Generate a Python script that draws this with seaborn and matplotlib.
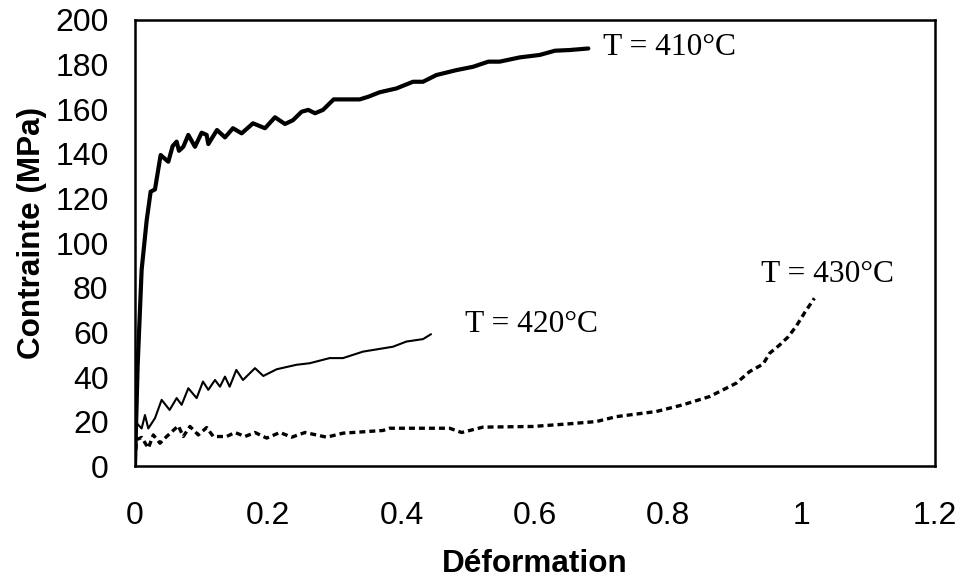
import numpy as np
import pandas as pd
import matplotlib
matplotlib.use("Agg")
import matplotlib.pyplot as plt
import seaborn as sns

# courbes contrainte-deformation
x_410 = [0, 0.004, 0.01, 0.0175, 0.0235, 0.03, 0.0385, 0.05, 0.0565, 0.0625, 0.066,
         0.0725, 0.08, 0.09, 0.1, 0.1075, 0.11, 0.123, 0.135, 0.147, 0.16, 0.177,
         0.195, 0.21, 0.225, 0.237, 0.25, 0.26, 0.27, 0.282, 0.298, 0.337, 0.35,
         0.367, 0.392, 0.417, 0.432, 0.452, 0.482, 0.507, 0.53, 0.547, 0.577,
         0.607, 0.63, 0.652, 0.68]
y_410 = [0, 45, 88, 110, 123, 124, 139.4, 136.4, 143.4, 145.4, 141.3,
         143.1, 148.4, 143.1, 149.4, 148.4, 144.3, 150.6, 147.3, 151.4, 149.1, 153.6,
         151.4, 156.3, 153.3, 155, 158.8, 159.6, 158.1, 159.6, 164.3, 164.3, 165.5,
         167.5, 169.2, 172.2, 172.2, 175.2, 177.4, 178.9, 181.2, 181.2, 183.1,
         184.2, 186.1, 186.4, 187.1]

x_420 = [0.0, 0.0025, 0.01, 0.015, 0.02, 0.03, 0.04, 0.052, 0.0625, 0.07, 0.08,
         0.0925, 0.102, 0.11, 0.12, 0.1275, 0.135, 0.142, 0.152, 0.162, 0.18,
         0.1925, 0.2125, 0.242, 0.262, 0.292, 0.312, 0.342, 0.387, 0.407, 0.432, 0.444]
y_420 = [10, 19.4, 17, 23, 17, 21.6, 29.8, 25.3, 30.6, 27.6, 35,
         30.6, 38, 34.3, 38.7, 35.7, 40.2, 35.7, 43.2, 38.7, 44,
         40.5, 43.5, 45.5, 46.2, 48.5, 48.5, 51.4, 53.6, 55.9, 57, 59.2]

x_430 = [0.0, 0.0025, 0.01, 0.02, 0.0275, 0.0375, 0.0475, 0.065, 0.0725, 0.0825,
         0.095, 0.1075, 0.1175, 0.1375, 0.15, 0.165, 0.18, 0.1975, 0.2175, 0.235,
         0.255, 0.2875, 0.312, 0.332, 0.372, 0.382, 0.442, 0.472, 0.49, 0.522,
         0.597, 0.652, 0.692, 0.722, 0.782, 0.822, 0.862, 0.902, 0.922, 0.942,
         0.952, 0.967, 0.98, 0.992, 1.0045, 1.019]
y_430 = [3, 12, 13, 8.2, 14.1, 10.4, 13.4, 18.2, 13.4, 17.9,
         14.1, 17.4, 13.4, 13.4, 15.2, 13.4, 15.2, 12.7, 15.2, 13.1,
         15.2, 13.1, 14.9, 15.3, 16.1, 17.1, 17.1, 17.1, 15.2, 17.6,
         17.9, 19.1, 20.1, 22.3, 24.6, 27.6, 31.3, 37.3, 42.5, 45.8,
         50.7, 54.4, 58.1, 62.9, 68.9, 75.3]

labels = ["T = 410°C", "T = 420°C", "T = 430°C"]
label_pos = [(0.702, 187.5), (0.495, 63.4), (0.9395, 85.7)]

x_ticks = [0, 0.2, 0.4, 0.6, 0.8, 1, 1.2]
x_tick_labels = ["0", "0.2", "0.4", "0.6", "0.8", "1", "1.2"]
y_ticks = list(range(0, 201, 20))

sns.set_style("white")
plt.rcParams['font.family'] = ['Liberation Sans', 'DejaVu Sans']
plt.rcParams['text.color'] = 'black'
plt.rcParams['axes.labelcolor'] = 'black'

fig, ax = plt.subplots(figsize=(9.62, 5.78), dpi=100)
fig.subplots_adjust(left=0.1403, right=0.972, top=0.966, bottom=0.193)

df410 = pd.DataFrame({"x": x_410, "y": y_410})
df420 = pd.DataFrame({"x": x_420, "y": y_420})
df430 = pd.DataFrame({"x": x_430, "y": y_430})

sns.lineplot(data=df410, x="x", y="y", sort=False, ax=ax, color="black", lw=3.0)
sns.lineplot(data=df420, x="x", y="y", sort=False, ax=ax, color="black", lw=1.5)
sns.lineplot(data=df430, x="x", y="y", sort=False, ax=ax, color="black", lw=2.4,
             linestyle=(0, (1.8, 1.2)))

for txt, (tx, ty) in zip(labels, label_pos):
    ax.text(tx, ty, txt, fontsize=22.7, color="black",
            family=['Liberation Serif', 'DejaVu Serif'], ha="left", va="center")

ax.set_xlim(0, 1.2)
ax.set_ylim(0, 200)
ax.set_xticks(x_ticks)
ax.set_xticklabels(x_tick_labels)
ax.set_yticks(y_ticks)
ax.tick_params(direction="in", length=4, width=1.5, labelsize=23, colors="black")
ax.tick_params(axis="y", pad=19)
ax.tick_params(axis="x", pad=25)
for s in ax.spines.values():
    s.set_color("black")
    s.set_linewidth(1.8)

ax.set_xlabel("Déformation", fontsize=22.7, fontweight="bold")
ax.set_ylabel("Contrainte (MPa)", fontsize=22.7, fontweight="bold")
ax.xaxis.set_label_coords(0.5, -0.185)
ax.yaxis.set_label_coords(-0.11, 0.522)

plt.savefig("out.png", dpi=100)
